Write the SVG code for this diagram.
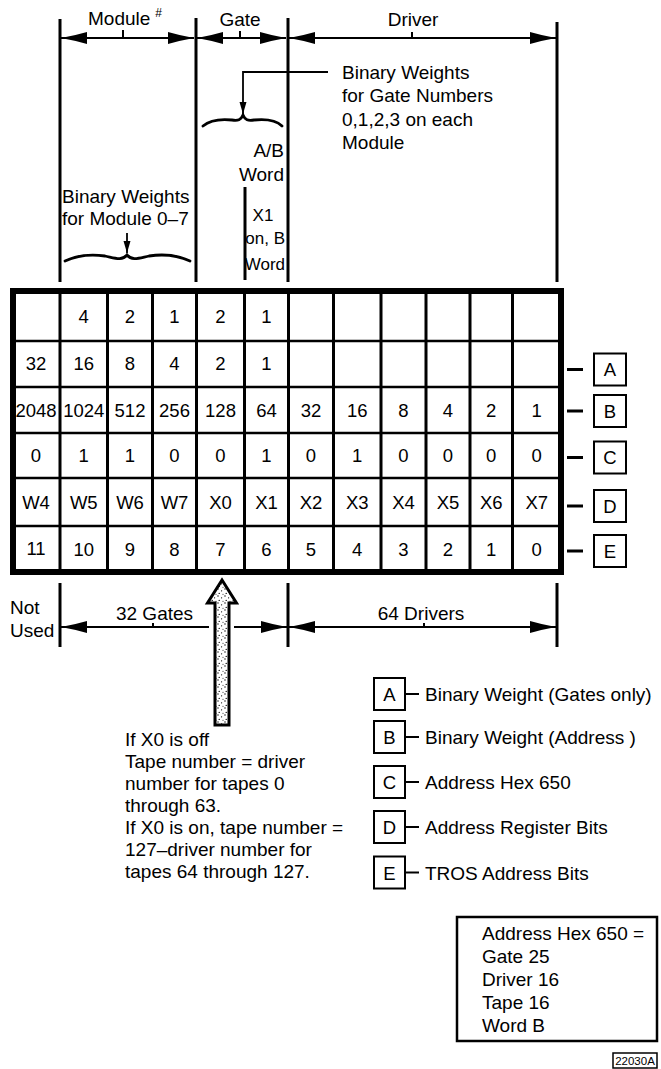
<svg xmlns="http://www.w3.org/2000/svg" width="661" height="1069" viewBox="0 0 661 1069">
<style>
  .t { font-family: "Liberation Sans", Arial, sans-serif; font-size: 19px; fill: #000; }
  .s { font-size: 17px; }
  .c { font-family: "Liberation Sans", Arial, sans-serif; font-size: 18.5px; fill: #000; text-anchor: middle; }
  .m { text-anchor: middle; }
  .e { text-anchor: end; }
  .ln { stroke: #000; stroke-width: 3; fill: none; }
  .dim { stroke: #000; stroke-width: 2; fill: none; }
  .thin { stroke: #000; stroke-width: 1.8; fill: none; }
  .brace { stroke: #000; stroke-width: 2.8; fill: none; stroke-linecap: round; }
  .box { stroke: #000; stroke-width: 2; fill: #fff; }
</style>
<defs>
  <marker id="arr" viewBox="0 0 26 12" refX="26" refY="6" markerWidth="26" markerHeight="12" markerUnits="userSpaceOnUse" orient="auto-start-reverse">
    <path d="M26,6 Q12,3.5 0,0 L0,12 Q12,8.5 26,6 Z" fill="#000"/>
  </marker>
  <marker id="sm" viewBox="0 0 12 8" refX="12" refY="4" markerWidth="12" markerHeight="8" markerUnits="userSpaceOnUse" orient="auto">
    <path d="M12,4 L0,0.5 L0,7.5 Z" fill="#000"/>
  </marker>
  <pattern id="stip" width="7" height="7" patternUnits="userSpaceOnUse">
    <rect width="7" height="7" fill="#fff"/>
    <circle cx="1" cy="1" r="0.7" fill="#000"/>
    <circle cx="4.6" cy="2.8" r="0.6" fill="#000"/>
    <circle cx="2.2" cy="5.4" r="0.65" fill="#000"/>
    <circle cx="6" cy="6.2" r="0.5" fill="#000"/>
  </pattern>
</defs>
<rect width="661" height="1069" fill="#fff"/>

<!-- top headings -->
<g id="heading-module">
  <text class="t" x="88" y="25">Module<tspan font-size="12" dx="5" dy="-8">#</tspan></text>
</g>
<g id="heading-gate"><text class="t m" x="240" y="26">Gate</text></g>
<g id="heading-driver"><text class="t m" x="413" y="26">Driver</text></g>

<g id="gate-weight-note">
  <text class="t" x="342" y="79">Binary  Weights</text>
  <text class="t" x="342" y="102">for Gate Numbers</text>
  <text class="t" x="342" y="126">0,1,2,3 on each</text>
  <text class="t" x="342" y="149">Module</text>
  <path class="brace" d="M203,126 C210,120 222,119 232,120 C238,121 241,120 243,115 C245,120 248,121 254,120 C264,119 276,120 282,126"/>
</g>

<g id="ab-word-note">
  <text class="t e" x="284" y="157">A/B</text>
  <text class="t e" x="284" y="181">Word</text>
  <text class="t s m" x="263" y="221">X1</text>
  <text class="t s e" x="285" y="244">on, B</text>
  <text class="t s e" x="285" y="270">Word</text>
</g>

<g id="module-weight-note">
  <text class="t" x="62" y="203">Binary Weights</text>
  <text class="t" x="62" y="225">for Module 0–7</text>
  <path class="brace" d="M65,261 C78,255 92,254 105,256 C115,258 122,261 127,255 C132,261 139,258 149,256 C162,254 177,255 190,261"/>
</g>

<!-- table -->
<g id="table">
  <rect x="13" y="291" width="548" height="281" fill="#fff" stroke="#000" stroke-width="6"/>
  <g class="ln">
    <line x1="60" y1="291" x2="60" y2="572"/>
    <line x1="107.5" y1="291" x2="107.5" y2="572"/>
    <line x1="152.5" y1="291" x2="152.5" y2="572"/>
    <line x1="196.5" y1="291" x2="196.5" y2="572"/>
    <line x1="244.5" y1="291" x2="244.5" y2="572"/>
    <line x1="288.5" y1="291" x2="288.5" y2="572"/>
    <line x1="333.5" y1="291" x2="333.5" y2="572"/>
    <line x1="381" y1="291" x2="381" y2="572"/>
    <line x1="426" y1="291" x2="426" y2="572"/>
    <line x1="470" y1="291" x2="470" y2="572"/>
    <line x1="512.5" y1="291" x2="512.5" y2="572"/>
  </g>
  <g stroke="#000" stroke-width="2.5">
    <line x1="13" y1="341" x2="561" y2="341"/>
    <line x1="13" y1="387" x2="561" y2="387"/>
    <line x1="13" y1="433" x2="561" y2="433"/>
    <line x1="13" y1="478" x2="561" y2="478"/>
    <line x1="13" y1="526" x2="561" y2="526"/>
  </g>
  <g class="c">
    <text x="83.75" y="323">4</text><text x="130" y="323">2</text><text x="174.5" y="323">1</text><text x="220.5" y="323">2</text><text x="266.5" y="323">1</text>

    <text x="36" y="370">32</text><text x="83.75" y="370">16</text><text x="130" y="370">8</text><text x="174.5" y="370">4</text><text x="220.5" y="370">2</text><text x="266.5" y="370">1</text>

    <text x="36" y="417">2048</text><text x="83.75" y="417">1024</text><text x="130" y="417">512</text><text x="174.5" y="417">256</text><text x="220.5" y="417">128</text><text x="266.5" y="417">64</text>
    <text x="311" y="417">32</text><text x="357.25" y="417">16</text><text x="403.5" y="417">8</text><text x="448" y="417">4</text><text x="491.25" y="417">2</text><text x="536.75" y="417">1</text>

    <text x="36" y="462">0</text><text x="83.75" y="462">1</text><text x="130" y="462">1</text><text x="174.5" y="462">0</text><text x="220.5" y="462">0</text><text x="266.5" y="462">1</text>
    <text x="311" y="462">0</text><text x="357.25" y="462">1</text><text x="403.5" y="462">0</text><text x="448" y="462">0</text><text x="491.25" y="462">0</text><text x="536.75" y="462">0</text>

    <text x="36" y="508.5">W4</text><text x="83.75" y="508.5">W5</text><text x="130" y="508.5">W6</text><text x="174.5" y="508.5">W7</text><text x="220.5" y="508.5">X0</text><text x="266.5" y="508.5">X1</text>
    <text x="311" y="508.5">X2</text><text x="357.25" y="508.5">X3</text><text x="403.5" y="508.5">X4</text><text x="448" y="508.5">X5</text><text x="491.25" y="508.5">X6</text><text x="536.75" y="508.5">X7</text>

    <text x="36" y="555">11</text><text x="83.75" y="556">10</text><text x="130" y="556">9</text><text x="174.5" y="556">8</text><text x="220.5" y="556">7</text><text x="266.5" y="556">6</text>
    <text x="311" y="556">5</text><text x="357.25" y="556">4</text><text x="403.5" y="556">3</text><text x="448" y="556">2</text><text x="491.25" y="556">1</text><text x="536.75" y="556">0</text>
  </g>
</g>

<!-- row tags -->
<g id="tag-A"><rect class="box" x="594" y="353.5" width="32" height="32"/><text class="c" x="610" y="376">A</text></g>
<g id="tag-B"><rect class="box" x="594" y="395" width="32" height="32"/><text class="c" x="610" y="417.5">B</text></g>
<g id="tag-C"><rect class="box" x="594" y="441.5" width="32" height="32"/><text class="c" x="610" y="464">C</text></g>
<g id="tag-D"><rect class="box" x="594" y="490" width="32" height="32"/><text class="c" x="610" y="512.5">D</text></g>
<g id="tag-E"><rect class="box" x="594" y="535" width="32" height="32"/><text class="c" x="610" y="557.5">E</text></g>

<!-- bottom labels -->
<g id="not-used"><text class="t" x="10" y="614">Not</text><text class="t" x="10" y="637">Used</text></g>
<g id="label-32-gates"><text class="t m" x="154.5" y="620">32 Gates</text></g>
<g id="label-64-drivers"><text class="t m" x="421" y="620">64 Drivers</text></g>

<g id="x0-note">
  <text class="t" x="125" y="746">If X0 is off</text>
  <text class="t" x="125" y="768">Tape number = driver</text>
  <text class="t" x="125" y="790">number for tapes 0</text>
  <text class="t" x="125" y="812">through 63.</text>
  <text class="t" x="125" y="834">If X0 is on, tape number =</text>
  <text class="t" x="125" y="856">127–driver number for</text>
  <text class="t" x="125" y="878">tapes 64 through 127.</text>
</g>

<!-- legend -->
<g id="legend-A"><rect class="box" x="374" y="678" width="31" height="32"/><text class="c" x="389.5" y="701">A</text><line class="dim" x1="405" y1="694" x2="419" y2="694"/><text class="t" x="425" y="701">Binary Weight (Gates only)</text></g>
<g id="legend-B"><rect class="box" x="374" y="721" width="31" height="32"/><text class="c" x="389.5" y="744">B</text><line class="dim" x1="405" y1="737" x2="419" y2="737"/><text class="t" x="425" y="744">Binary Weight (Address )</text></g>
<g id="legend-C"><rect class="box" x="374" y="766" width="31" height="32"/><text class="c" x="389.5" y="789">C</text><line class="dim" x1="405" y1="782" x2="419" y2="782"/><text class="t" x="425" y="789">Address Hex 650</text></g>
<g id="legend-D"><rect class="box" x="374" y="811" width="31" height="32"/><text class="c" x="389.5" y="834">D</text><line class="dim" x1="405" y1="827" x2="419" y2="827"/><text class="t" x="425" y="834">Address Register Bits</text></g>
<g id="legend-E"><rect class="box" x="374" y="856.5" width="31" height="32"/><text class="c" x="389.5" y="879.5">E</text><line class="dim" x1="405" y1="872.5" x2="419" y2="872.5"/><text class="t" x="425" y="879.5">TROS Address Bits</text></g>

<g id="summary">
  <rect x="457" y="917" width="200" height="124" fill="#fff" stroke="#000" stroke-width="2.5"/>
  <text class="t" x="482" y="940">Address Hex 650 =</text>
  <text class="t" x="482" y="963">Gate 25</text>
  <text class="t" x="482" y="986">Driver 16</text>
  <text class="t" x="482" y="1009">Tape 16</text>
  <text class="t" x="482" y="1032">Word B</text>
</g>

<g id="figure-number">
  <rect x="613" y="1053" width="44" height="15" fill="#fff" stroke="#000" stroke-width="1.5"/>
  <text x="635" y="1065" font-family="Liberation Sans, Arial, sans-serif" font-size="11.5" text-anchor="middle">22030A</text>
</g>

<!-- connectors -->
<g id="connectors">
  <g class="ln">
    <line x1="60" y1="19" x2="60" y2="282"/>
    <line x1="196" y1="18" x2="196" y2="282"/>
    <line x1="288" y1="18" x2="288" y2="282"/>
    <line x1="557" y1="22" x2="557" y2="282"/>
    <line x1="245" y1="187" x2="245" y2="280"/>
  </g>
  <g class="dim">
    <line x1="61" y1="38" x2="194" y2="38" marker-start="url(#arr)" marker-end="url(#arr)"/>
    <line x1="197" y1="38" x2="286" y2="38" marker-start="url(#arr)" marker-end="url(#arr)"/>
    <line x1="289" y1="38" x2="556" y2="38" marker-start="url(#arr)" marker-end="url(#arr)"/>
    <line x1="123" y1="30" x2="123" y2="38"/>
    <line x1="240" y1="31" x2="240" y2="38"/>
    <line x1="412" y1="32" x2="412" y2="38"/>
  </g>
  <polyline class="thin" points="328,72 243,72 243,114" marker-end="url(#sm)"/>
  <line class="thin" x1="127" y1="233" x2="127" y2="253" marker-end="url(#sm)"/>

  <g class="ln">
    <line x1="60" y1="583" x2="60" y2="647"/>
    <line x1="288" y1="583" x2="288" y2="647"/>
    <line x1="557" y1="583" x2="557" y2="647"/>
  </g>
  <g class="dim">
    <line x1="61" y1="627" x2="209" y2="627" marker-start="url(#arr)"/>
    <line x1="234" y1="627" x2="287" y2="627" marker-end="url(#arr)"/>
    <line x1="289" y1="627" x2="556" y2="627" marker-start="url(#arr)" marker-end="url(#arr)"/>
    <line x1="153" y1="623" x2="153" y2="627"/>
    <line x1="424" y1="623" x2="424" y2="627"/>
  </g>
  <path d="M222,580 L236.5,603 L229,603 L229,725 L215,725 L215,603 L207.5,603 Z" fill="url(#stip)" stroke="#000" stroke-width="3" stroke-linejoin="miter"/>

  <g class="ln">
    <line x1="567" y1="369.5" x2="583" y2="369.5"/>
    <line x1="567" y1="411" x2="583" y2="411"/>
    <line x1="567" y1="457.5" x2="583" y2="457.5"/>
    <line x1="567" y1="506" x2="583" y2="506"/>
    <line x1="567" y1="551" x2="583" y2="551"/>
  </g>
</g>
</svg>
